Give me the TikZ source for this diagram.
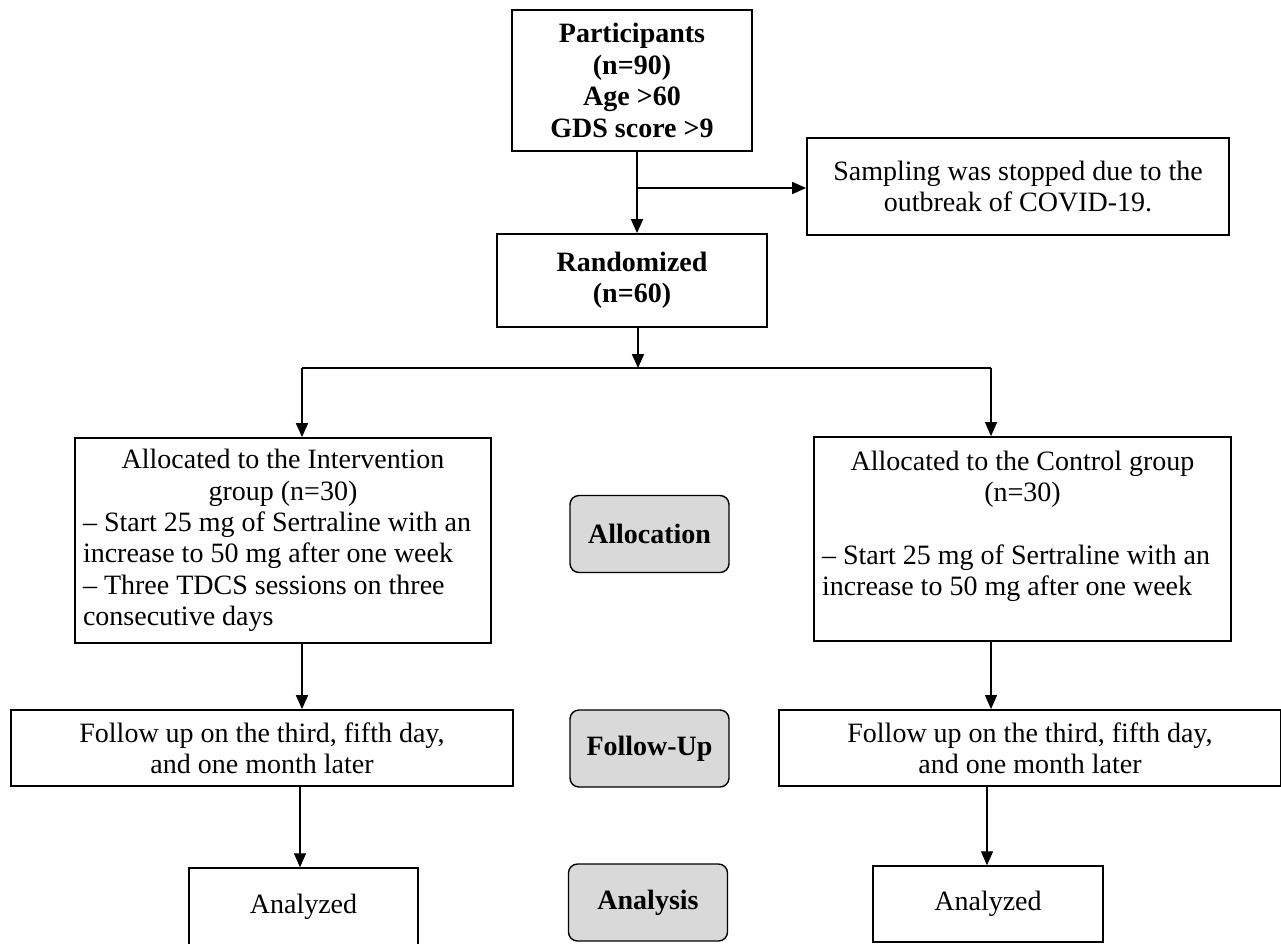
\documentclass[tikz,border=0pt]{standalone}
\usepackage{fontspec}
\setmainfont{Liberation Serif}
\usetikzlibrary{arrows.meta}
\begin{document}
\begin{tikzpicture}[x=1pt,y=-1pt,
  every node/.style={font=\fontsize{28}{31.4}\selectfont},
  thickbox/.style={draw, line width=1.8pt, inner sep=0pt, align=center},
  thinbox/.style={draw, line width=1.4pt, inner sep=0pt, align=center},
  graybox/.style={draw, line width=1.4pt, fill=black!15, rounded corners=9pt, inner sep=0pt, align=center, minimum width=159, minimum height=77, font=\fontsize{28}{31.4}\selectfont\bfseries},
  textbox/.style={draw, line width=1.8pt, inner xsep=8pt, inner ysep=0pt, align=flush left},
  arr/.style={-{Triangle[length=14pt,width=12pt]}, line width=1.8pt},
  arrthin/.style={-{Triangle[length=14pt,width=12pt]}, line width=1.1pt}
]
\useasboundingbox (0,0) rectangle (1281,943);

% top
\node[thickbox, minimum width=240, minimum height=141, font=\fontsize{28}{31.4}\selectfont\bfseries] (part) at (632,80.5)
  {Participants\\(n=90)\\Age >60\\GDS score >9};
\node[thickbox, minimum width=422, minimum height=97] (samp) at (1018,186.5)
  {Sampling was stopped due to the\\outbreak of COVID-19.};
\node[thickbox, minimum width=270, minimum height=93, font=\fontsize{28}{31.4}\selectfont\bfseries] (rand) at (632,280.5)
  {Randomized\\(n=60)};

% allocation
\node[textbox, text width=400, minimum height=205] (inter) at (283,540.5)
  {{\centering Allocated to the Intervention\\group (n=30)\par}\raggedright
   – Start 25 mg of Sertraline with an\\increase to 50 mg after one week\\– Three TDCS sessions on three\\consecutive days};
\node[textbox, text width=401, minimum height=204] (ctrl) at (1022.5,539)
  {{\centering Allocated to the Control group\\(n=30)\par}\raggedright
   \mbox{}\\– Start 25 mg of Sertraline with an\\increase to 50 mg after one week\\\mbox{}};
\node[graybox] (alloc) at (649.5,534) {Allocation};

% follow-up
\node[thinbox, line width=1.8pt, minimum width=502, minimum height=76] (fuL) at (262,748)
  {Follow up on the third, fifth day,\\and one month later};
\node[graybox] (fu) at (649.5,748.5) {Follow-Up};
\node[thinbox, line width=1.8pt, minimum width=502, minimum height=76] (fuR) at (1030,748)
  {Follow up on the third, fifth day,\\and one month later};

% analysis
\node[thinbox, minimum width=229, minimum height=78] (anL) at (303.5,907) {Analyzed};
\node[graybox] (an) at (648,902.5) {Analysis};
\node[thinbox, minimum width=230, minimum height=76] (anR) at (988,904) {Analyzed};

% connectors
\coordinate (br1) at (637,188);
\coordinate (br2) at (638,368);
\coordinate (brL) at (302,368);
\coordinate (brM) at (655,368);
\coordinate (brR) at (991,368);

\draw[line width=1.8pt] ([xshift=5]part.south) -- (br1);
\draw[arr] (br1) -- ([xshift=5]rand.north);
\draw[arr] (br1) -- (br1 -| samp.west);
\draw[arr] (rand.south -| br2) -- (br2);
\draw[line width=1.8pt] (brL) -- (brM);
\draw[line width=1.1pt] (brM) -- (brR);
\draw[arr] (brL) -- (brL |- inter.north);
\draw[arrthin] (brR) -- (brR |- ctrl.north);

\draw[arr] (inter.south -| brL) -- (brL |- fuL.north);
\draw[arrthin] (ctrl.south -| brR) -- (brR |- fuR.north);

\draw[arrthin] ([xshift=-2]fuL.south -| brL) -- ([xshift=-2]brL |- anL.north);
\draw[arrthin] ([xshift=-4]fuR.south -| brR) -- ([xshift=-4]brR |- anR.north);
\end{tikzpicture}
\end{document}
